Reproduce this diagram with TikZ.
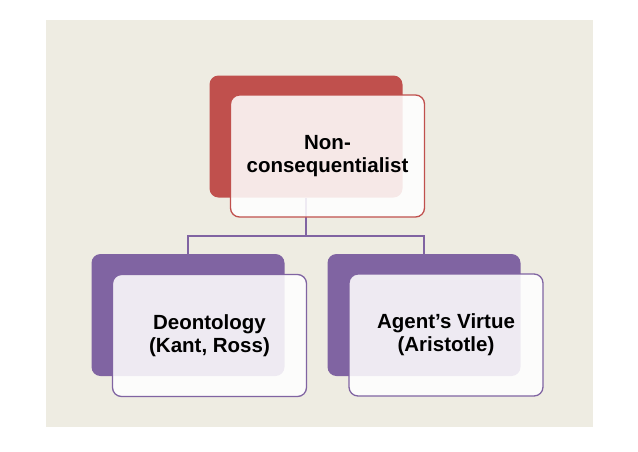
\documentclass[tikz,border=0pt]{standalone}
\usepackage{fontspec}
\setmainfont{Liberation Sans}
\usetikzlibrary{positioning}
\definecolor{paper}{RGB}{238,236,226}
\definecolor{topred}{RGB}{192,80,77}
\definecolor{leafpurple}{RGB}{128,100,162}

\begin{document}
\begin{tikzpicture}[
    x=1pt,
    y=-1pt,
    backbox/.style={rectangle, rounded corners=9pt, inner sep=0pt,
        minimum width=193pt, minimum height=122pt},
    frontbox/.style={rectangle, rounded corners=9pt, line width=1.3pt,
        fill=white, fill opacity=0.87, text opacity=1, align=center,
        minimum width=194pt, minimum height=122pt,
        font=\bfseries\fontsize{20.5}{23}\selectfont},
    link/.style={draw=leafpurple, line width=1.3pt}
]
% page and backdrop
\useasboundingbox (0,0) rectangle (638,451);
\fill[white] (0,0) rectangle (638,451);
\fill[paper] (46,20) rectangle (593,427);

% coloured back panels
\node[backbox, fill=topred] (topback) at (306,136.5) {};
\node[backbox, fill=leafpurple] (leftback) at (188,315) {};
\node[backbox, fill=leafpurple] (rightback) at (424,315) {};

% tree connectors
\coordinate (hub) at (306,236);
\draw[link] (topback.south) -- (hub) -| (leftback.north);
\draw[link] (hub) -| (rightback.north);

% text panels
\node[frontbox, draw=topred] (top)
    at ([xshift=21.5pt, yshift=-19.5pt]topback.center) {Non-\\consequentialist};
\node[frontbox, draw=leafpurple] (left)
    at ([xshift=21.5pt, yshift=-20.5pt]leftback.center) {Deontology\\(Kant, Ross)};
\node[frontbox, draw=leafpurple] (right)
    at ([xshift=22pt, yshift=-20pt]rightback.center) {Agent’s Virtue\\(Aristotle)};
\end{tikzpicture}
\end{document}
